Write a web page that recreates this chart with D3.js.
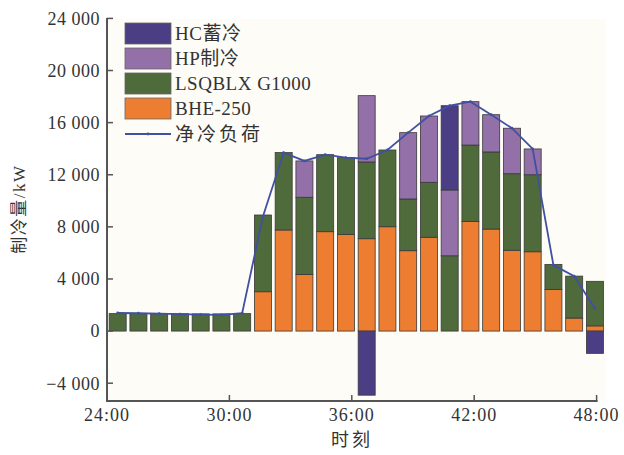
<!DOCTYPE html>
<html><head><meta charset="utf-8">
<script src="https://cdn.jsdelivr.net/npm/d3@7"></script>
<style>
html,body{margin:0;padding:0;background:#fff;}
svg text{font-family:"Liberation Serif","Noto Sans CJK SC",serif;fill:#333;}
</style></head>
<body><svg id="c" width="624" height="455"></svg>
<script>
// ---- data ----
const hours = ["24","25","26","27","28","29","30","31","32","33","34","35","36","37","38","39","40","41","42","43","44","45","46","47"];
const bhe   = [0,0,0,0,0,0,0, 3020,7760,4350,7630,7420,7090,8010,6170,7200,0,8420,7830,6200,6090,3200,1000,400];
const lsq   = [1340,1340,1340,1330,1320,1320,1340, 5890,5940,5920,5910,5890,5890,5890,3970,4220,5780,5860,5920,5880,5910,1920,3220,3420];
const hp    = [0,0,0,0,0,0,0, 0,0,2790,0,0,5090,0,5090,5090,5050,3330,2860,3490,1980,0,0,0];
const hc    = [0,0,0,0,0,0,0, 0,0,0,0,0,-4920,0,0,0,6470,0,0,0,0,0,0,-1710];
const load  = [1390,1370,1340,1300,1260,1240,1380, 8800,13700,13060,13540,13310,13230,13900,15230,16510,17300,17610,16610,15570,13980,5060,4220,1740];
const yTicks = [-4000,0,4000,8000,12000,16000,20000,24000];
const xTickVals = [24,30,36,42,48];
const xTickLabels = ["24:00","30:00","36:00","42:00","48:00"];
const seriesNames = ["HC蓄冷","HP制冷","LSQBLX G1000","BHE-250"];
const lineName = "净冷负荷";
const xTitle = "时刻";
const yTitle = "制冷量/kW";

const colors = {hc:"#4b3e85", hp:"#9370a8", lsq:"#4f6a3b", bhe:"#ed7d31", line:"#4050a2"};

const svg = d3.select("#c");
const L = 107, R = 606, T = 19, B = 401;

const y = d3.scaleLinear().domain([-4000,24000]).range([383.2,18.4]);
const xb = d3.scaleBand().domain(d3.range(24)).range([107.3,605.3]).paddingInner(0.18).paddingOuter(0.09);
const xt = d3.scaleLinear().domain([24,48]).range([107,596.6]);

// plot background
svg.append("rect").attr("x",L).attr("y",T).attr("width",R-L).attr("height",B-T).attr("fill","#fdfcf7");

// stacked bars
const stacks = [];
for (let i=0;i<24;i++){
  const segs = [];
  let pos = 0, neg = 0;
  [["bhe",bhe[i]],["lsq",lsq[i]],["hp",hp[i]],["hc",hc[i]]].forEach(([k,v])=>{
    if (v>0){ segs.push({k, y0:pos, y1:pos+v}); pos+=v; }
    else if (v<0){ segs.push({k, y0:neg+v, y1:neg}); neg+=v; }
  });
  segs.forEach(s=>{ s.i=i; stacks.push(s); });
}
svg.append("g").selectAll("rect").data(stacks).join("rect")
  .attr("x",d=>xb(d.i)).attr("width",xb.bandwidth())
  .attr("y",d=>y(d.y1)).attr("height",d=>y(d.y0)-y(d.y1))
  .attr("fill",d=>colors[d.k]).attr("stroke","#3a3a3a").attr("stroke-width",0.8);

// line
const lx = i => xb(i)+xb.bandwidth()/2;
svg.append("path").datum(load)
  .attr("d", d3.line().x((d,i)=>lx(i)).y(d=>y(d)))
  .attr("fill","none").attr("stroke",colors.line).attr("stroke-width",1.8);
svg.append("g").selectAll("circle").data(load).join("circle")
  .attr("cx",(d,i)=>lx(i)).attr("cy",d=>y(d)).attr("r",1.4).attr("fill",colors.line);

// axes
const fmt = v => d3.format(",")(v).replace(/,/g," ");
const ax = svg.append("g");
ax.append("line").attr("x1",L).attr("x2",L).attr("y1",T-1).attr("y2",B).attr("stroke","#555").attr("stroke-width",2);
ax.append("line").attr("x1",L-1).attr("x2",xt(48)+1).attr("y1",B).attr("y2",B).attr("stroke","#555").attr("stroke-width",2);
yTicks.forEach(v=>{
  ax.append("line").attr("x1",L).attr("x2",L+6).attr("y1",y(v)).attr("y2",y(v)).attr("stroke","#555").attr("stroke-width",1.5);
  ax.append("text").attr("x",L-7).attr("y",y(v)).attr("dy","0.35em").attr("text-anchor","end")
    .attr("font-size",18).attr("letter-spacing",0.5).text(fmt(v));
});
xTickVals.forEach((v,k)=>{
  ax.append("line").attr("x1",xt(v)).attr("x2",xt(v)).attr("y1",B).attr("y2",B-6).attr("stroke","#555").attr("stroke-width",1.5);
  ax.append("text").attr("x",xt(v)).attr("y",B+20).attr("text-anchor","middle")
    .attr("font-size",18).attr("letter-spacing",1).text(xTickLabels[k]);
});
svg.append("text").attr("x",352).attr("y",446).attr("text-anchor","middle").attr("font-size",18).attr("letter-spacing",3).text(xTitle);
svg.append("text").attr("transform","translate(25,209) rotate(-90)").attr("text-anchor","middle").attr("font-size",17).attr("letter-spacing",1.5).text(yTitle);

// legend
const lg = svg.append("g");
const keys = ["hc","hp","lsq","bhe"];
keys.forEach((k,j)=>{
  const yy = 23 + j*25;
  lg.append("rect").attr("x",125).attr("y",yy).attr("width",46).attr("height",21)
    .attr("fill",colors[k]).attr("stroke","#666").attr("stroke-width",0.8);
  lg.append("text").attr("x",175).attr("y",yy+10.5).attr("dy","0.35em").attr("font-size",19).attr("letter-spacing",0.5).text(seriesNames[j]);
});
lg.append("line").attr("x1",125).attr("x2",171).attr("y1",134).attr("y2",134).attr("stroke",colors.line).attr("stroke-width",1.8);
lg.append("circle").attr("cx",148).attr("cy",134).attr("r",1.4).attr("fill",colors.line);
lg.append("text").attr("x",175).attr("y",134).attr("dy","0.35em").attr("font-size",19).attr("letter-spacing",3).text(lineName);
</script></body></html>
